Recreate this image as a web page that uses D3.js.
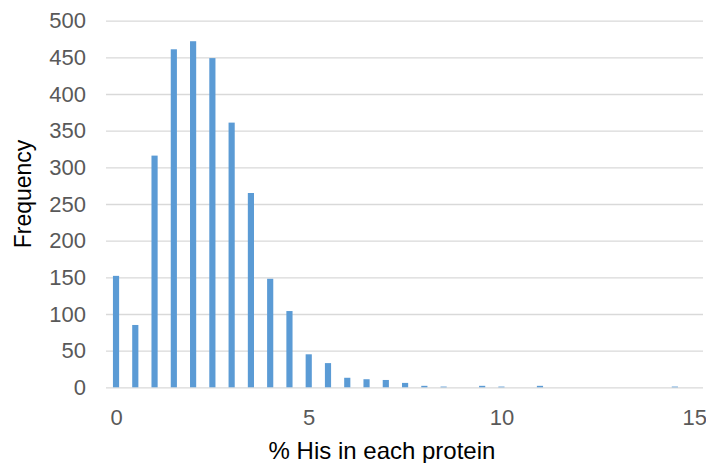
<!DOCTYPE html>
<html>
<head>
<meta charset="utf-8">
<script src="https://cdn.jsdelivr.net/npm/d3@7/dist/d3.min.js"></script>
<style>
  html, body { margin: 0; padding: 0; background: #fff; }
  svg { display: block; font-family: "Liberation Sans", Arial, sans-serif; }
</style>
</head>
<body>
<svg id="chart" width="706" height="463"></svg>
<script>
// Histogram bins (% His in each protein) and their counts
const bins = [0, 0.5, 1, 1.5, 2, 2.5, 3, 3.5, 4, 4.5, 5, 5.5, 6, 6.5, 7, 7.5,
              8, 8.5, 9, 9.5, 10, 10.5, 11, 11.5, 12, 12.5, 13, 13.5, 14, 14.5, 15];
const counts = [152, 85, 316, 461, 472, 449, 361, 265, 148, 104, 45, 33, 13, 11, 10, 6,
                2, 1, 0, 2, 1, 0, 2, 0, 0, 0, 0, 0, 0, 1, 0];
const xTicks = [0, 5, 10, 15];
const yTicks = [0, 50, 100, 150, 200, 250, 300, 350, 400, 450, 500];

const svg = d3.select("#chart");
const plot = { left: 106, right: 703, top: 20.7, bottom: 387.3 };

const x = d3.scaleLinear().domain([-0.26, 15.23]).range([plot.left, plot.right]);
const y = d3.scaleLinear().domain([0, 500]).range([plot.bottom, plot.top]);
const barW = x(0.16) - x(0);

// horizontal gridlines with value labels
const yAxis = svg.append("g")
  .attr("transform", `translate(${plot.left},0)`)
  .call(d3.axisLeft(y).tickValues(yTicks).tickSize(-(plot.right - plot.left)).tickPadding(20));
yAxis.select(".domain").remove();
yAxis.selectAll(".tick line").attr("stroke", "#d9d9d9").attr("stroke-width", 1.3);
yAxis.selectAll(".tick text")
  .attr("fill", "#595959")
  .style("font-size", "22px");

// bars
svg.append("g").selectAll("rect")
  .data(bins.map((b, i) => ({ b, c: counts[i] })))
  .join("rect")
  .attr("x", d => x(d.b) - barW / 2)
  .attr("width", barW)
  .attr("y", d => y(d.c))
  .attr("height", d => y(0) - y(d.c))
  .attr("fill", "#5b9bd5");

// x axis labels
const xAxis = svg.append("g")
  .attr("transform", `translate(0,${plot.bottom})`)
  .call(d3.axisBottom(x).tickValues(xTicks).tickSize(0).tickPadding(22));
xAxis.select(".domain").remove();
xAxis.selectAll(".tick text")
  .attr("fill", "#595959")
  .style("font-size", "22px");

// axis titles
svg.append("text")
  .attr("x", 382)
  .attr("y", 459)
  .attr("text-anchor", "middle")
  .attr("fill", "#000")
  .style("font-size", "24px")
  .text("% His in each protein");

svg.append("text")
  .attr("transform", "translate(31,194) rotate(-90)")
  .attr("text-anchor", "middle")
  .attr("fill", "#000")
  .style("font-size", "23px")
  .text("Frequency");
</script>
</body>
</html>
